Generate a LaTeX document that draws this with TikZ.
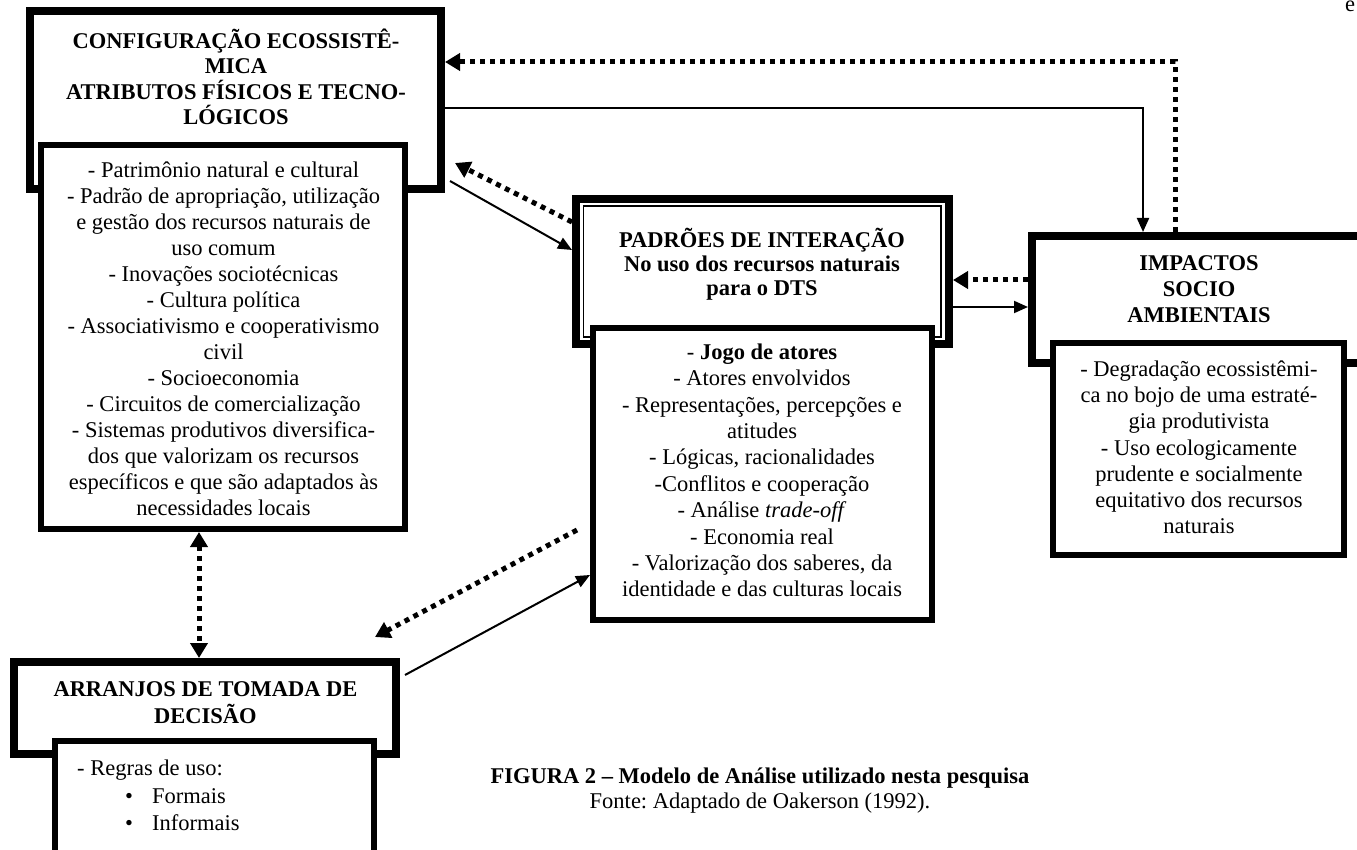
\documentclass[tikz,border=0pt]{standalone}
\usepackage{fontspec}
\setmainfont{Liberation Serif}
\frenchspacing
\usetikzlibrary{arrows.meta,calc}
\tikzset{
  obox/.style={draw, line width=8pt, fill=white, inner sep=0pt},
  ibox/.style={draw, line width=6pt, fill=white, inner sep=0pt},
  hd/.style={font=\fontsize{22.5}{#1}\selectfont\bfseries, align=center, anchor=base, inner sep=0pt},
  bd/.style={font=\fontsize{22.5}{#1}\selectfont, align=center, anchor=base, inner sep=0pt},
  sarrow/.style={line width=2pt, -{Triangle[length=14pt,width=12pt]}},
  darrow/.style={line width=5pt, dash pattern=on 5pt off 5pt, -{Triangle[length=15pt,width=17pt]}},
  dboth/.style={line width=5pt, dash pattern=on 5pt off 5pt, {Triangle[length=15pt,width=17pt]}-{Triangle[length=15pt,width=17pt]}},
}
\begin{document}
\begin{tikzpicture}[x=1pt,y=-1pt]
\useasboundingbox (0,0) rectangle (1357,850);
\clip (0,0) rectangle (1357,850);
\fill[white] (0,0) rectangle (1357,850);

% Box 1
\node[obox, minimum width=411pt, minimum height=178pt] (c1o) at (235.5,100) {};
\node[ibox, minimum width=364pt, minimum height=384pt] (c1i) at (223,337) {};
\node[hd=25.6] (h1) at (236,125) {CONFIGURAÇÃO ECOSSISTÊ-\\MICA\\ATRIBUTOS FÍSICOS E TECNO-\\LÓGICOS};
\node[bd=26] (b1) at (223.5,515) {- Patrimônio natural e cultural\\- Padrão de apropriação, utilização\\e gestão dos recursos naturais de\\uso comum\\- Inovações sociotécnicas\\- Cultura política\\- Associativismo e cooperativismo\\civil\\- Socioeconomia\\- Circuitos de comercialização\\- Sistemas produtivos diversifica-\\dos que valorizam os recursos\\específicos e que são adaptados às\\necessidades locais};

% Box 2
\node[obox, minimum width=373pt, minimum height=145pt] (c2o) at (762.5,271.5) {};
\draw[line width=1.5pt] ([shift={(11.5pt,-11pt)}]c2o.north west) rectangle ([shift={(-12pt,11pt)}]c2o.south east);
\node[ibox, minimum width=339pt, minimum height=292pt] (c2i) at (762.5,474) {};
\node[hd=24.2] (h2) at (762,295.7) {PADRÕES DE INTERAÇÃO\\No uso dos recursos naturais\\para o DTS};
\node[bd=26.35] (b2) at (762,596.7) {- \textbf{Jogo de atores}\\- Atores envolvidos\\- Representações, percepções e\\atitudes\\- Lógicas, racionalidades\\-Conflitos e cooperação\\- Análise \textit{trade-off}\\- Economia real\\- Valorização dos saberes, da\\identidade e das culturas locais};

% Box 3
\node[obox, minimum width=340pt, minimum height=127pt] (c3o) at (1202,299.5) {};
\node[ibox, minimum width=291pt, minimum height=212pt] (c3i) at (1198.5,449) {};
\node[hd=26.3] (h3) at (1199,322.7) {IMPACTOS\\SOCIO\\AMBIENTAIS};
\node[bd=26.1] (b3) at (1199,533.3) {- Degradação ecossistêmi-\\ca no bojo de uma estraté-\\gia produtivista\\- Uso ecologicamente\\prudente e socialmente\\equitativo dos recursos\\naturais};

% Box 4
\node[obox, minimum width=382pt, minimum height=92pt] (c4o) at (205,708) {};
\node[ibox, minimum width=319pt, minimum height=129pt] (c4i) at (214.5,805.5) {};
\node[hd=26.6] (h4) at (205.5,723.3) {ARRANJOS DE TOMADA DE\\DECISÃO};
\node[font=\fontsize{22.5}{26}\selectfont, align=left, anchor=base west, inner sep=0pt] (r4) at (77,830) {- Regras de uso:\\[1.5pt]\hspace*{48pt}\makebox[27pt][l]{•}Formais\\[1pt]\hspace*{48pt}\makebox[27pt][l]{•}Informais};

% Caption
\node[bd=25] (cap) at (760,808.3) {\textbf{FIGURA 2 – Modelo de Análise utilizado nesta pesquisa}\\Fonte: Adaptado de Oakerson (1992).};
\node[font=\fontsize{22.5}{26}\selectfont, anchor=base west, inner sep=0pt] (ec) at (1345,12) {e};

% Connectors
\draw[darrow] ([xshift=-27pt]c3o.north) |- ([yshift=38pt]c1o.east);
\draw[sarrow] ([yshift=-8pt]c1o.east) -| ([xshift=-59pt]c3o.north);
\draw[darrow] ([yshift=49.5pt]c2o.west) -- ([shift={(10pt,-63pt)}]c1o.east);
\draw[sarrow] ([shift={(5pt,-81pt)}]c1o.east) -- ([yshift=21.5pt]c2o.west);
\draw[darrow] ([yshift=19.5pt]c3o.west) -- ([yshift=19.5pt]c3o.west -| c2o.east);
\draw[sarrow] ([yshift=-35.5pt]c2o.east) -- ([yshift=-35.5pt]c2o.east -| c3o.west);
\draw[dboth] ([xshift=-24pt]c1i.south) -- ([xshift=-24pt]c1i.south |- c4o.north);
\draw[darrow] ([shift={(-13pt,-56pt)}]c2i.west) -- ([shift={(-25pt,21pt)}]c4o.north east);
\draw[sarrow] ([shift={(5pt,-17pt)}]c4o.north east) -- ([yshift=-101pt]c2i.west);
\end{tikzpicture}
\end{document}
